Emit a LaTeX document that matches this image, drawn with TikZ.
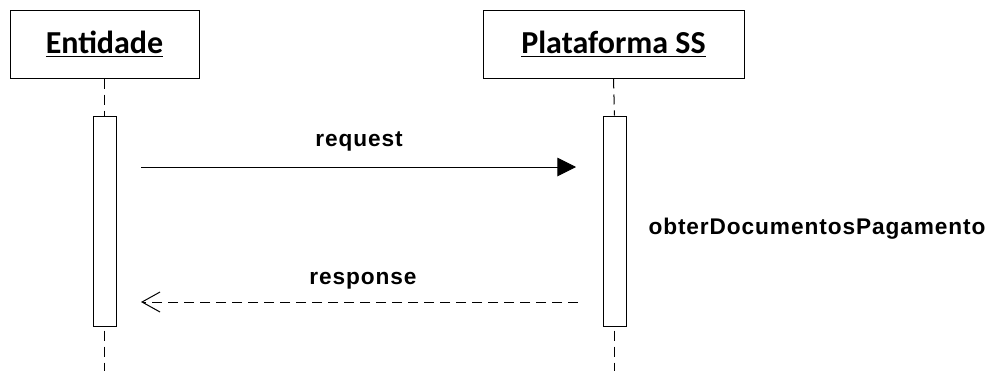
\documentclass[tikz,border=0pt]{standalone}
\usepackage{fontspec}
\newfontfamily\boxfont{Carlito}
\newfontfamily\msgfont[LetterSpace=4]{Liberation Sans}
\usetikzlibrary{arrows.meta}

\tikzset{
  objbox/.style={draw, line width=0.75pt, minimum height=51pt, inner sep=0pt,
    font=\boxfont\bfseries\fontsize{24}{28}\selectfont},
  actbox/.style={draw, line width=0.75pt, minimum width=17.25pt, minimum height=157.5pt, inner sep=0pt},
  lifeline/.style={line width=0.75pt, dash pattern=on 7.5pt off 4.5pt},
  msglabel/.style={font=\msgfont\bfseries\fontsize{17}{20}\selectfont}
}

\begin{document}
\begin{tikzpicture}[x=0.75pt, y=-0.75pt]
    \useasboundingbox (0,0) rectangle (989,371);

    % Objetos
    \node[objbox, minimum width=141.75pt] (ent) at (104.5,44) {\underline{Entidade}};
    \node[objbox, minimum width=195.75pt] (plat) at (613.5,44) {\underline{Plataforma SS}};

    % Ativacoes
    \node[actbox] (entAct) at (104.5,221) {};
    \node[actbox] (platAct) at (614.5,221) {};

    % Linhas de vida
    \coordinate (entEnd) at (104.5,371);
    \coordinate (platEnd) at (614.5,371);
    \foreach \obj in {ent, plat} {
        \draw[lifeline] (\obj.south) -- (\obj Act.north);
        \draw[lifeline, dash phase=9pt] (\obj Act.south) -- (\obj End);
    }

    % Mensagens
    \coordinate (reqStart) at (141,167);
    \coordinate (reqEnd) at (576,167);
    \draw[line width=0.75pt, -{Triangle[length=14pt,width=14pt]}] (reqStart) -- (reqEnd);
    \node[msglabel] (reqLabel) at (359,141) {request};

    \coordinate (resStart) at (578,302);
    \coordinate (resEnd) at (141,302);
    \draw[lifeline, -{Straight Barb[length=13.5pt,width=15pt,line width=0.75pt]}] (resStart) -- (resEnd);
    \node[msglabel] (resLabel) at (363,281) {response};

    % Operacao
    \node[msglabel] (opLabel) at (817,229) {obterDocumentosPagamento};
\end{tikzpicture}
\end{document}
